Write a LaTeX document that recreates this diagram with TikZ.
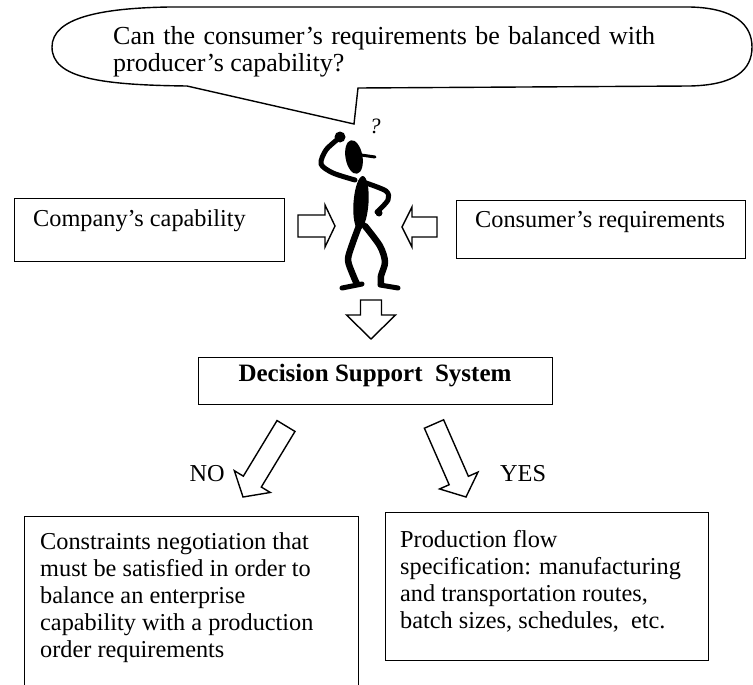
\documentclass[tikz,border=0pt]{standalone}
\usepackage{fontspec}
\setmainfont{Liberation Serif}
\usetikzlibrary{calc}

% hollow block arrow from #1 (tail centre) to #2 (tip):
% #3 half shaft width, #4 half head width, #5 head length
\newcommand\fatarrow[5]{%
  \coordinate (fa-hb) at ($(#2)!#5!(#1)$);
  \draw[blockarrow] ($(#1)!#3!90:(#2)$) -- ($(fa-hb)!#3!-90:(#1)$)
    -- ($(fa-hb)!#4!-90:(#1)$) -- (#2) -- ($(fa-hb)!#4!90:(#1)$)
    -- ($(fa-hb)!#3!90:(#1)$) -- ($(#1)!#3!-90:(#2)$) -- cycle;}

\begin{document}
\begin{tikzpicture}[x=1pt,y=-1pt,
  frame/.style={draw, line width=1.4pt, inner sep=0pt},
  txt/.style={inner sep=0pt, align=left, font=\fontsize{24.3}{26.8}\selectfont},
  bubtxt/.style={inner sep=0pt, align=left, font=\fontsize{26}{27}\selectfont},
  blockarrow/.style={draw, line width=1.4pt, fill=white, line join=miter},
  limb/.style={line width=5pt, line cap=round, line join=round},
  leg/.style={line width=6.5pt, line cap=round, line join=round},
]
\useasboundingbox (0,0) rectangle (753,685);

% thought bubble with its tail
\draw[line width=1.4pt, line join=miter]
  (187,86) .. controls (100,85) and (52,78) .. (52,47)
  .. controls (52,18) and (100,8) .. (170,7) -- (690,7)
  .. controls (735,8) and (752,25) .. (752,47)
  .. controls (752,70) and (735,85) .. (690,86) -- (358,88)
  -- (354,124) -- cycle;
% (multi-line nodes sit on the baseline of their last line)
\node[bubtxt, anchor=base west] (question) at (113,72)
  {\makebox[542pt][s]{Can the consumer’s requirements be balanced with}\\
   producer’s capability?};

% the puzzled man
\node[font=\fontsize{22}{22}\selectfont\itshape, inner sep=0pt] (qm) at (375,126) {?};
\fill[rotate around={10:(354,157)}] (354,157) ellipse [x radius=8.5pt, y radius=17pt];
\draw[line width=3pt, line cap=round] (361,155) -- (375,157);
\fill[rotate around={-4:(361,203)}] (361,203) ellipse [x radius=7.5pt, y radius=27pt];
\draw[limb] plot[smooth] coordinates {(355,180) (333,173) (321,164) (326,150) (338,139)};
\fill (340,137) circle [radius=5.5pt];
\draw[limb] plot[smooth] coordinates {(366,183) (386,191) (388,200) (377,212)};
\fill (379,213) circle [radius=3.5pt];
\draw[leg] plot[smooth] coordinates {(359,226) (352,245) (348,260) (353,275) (357,284)};
\draw[leg] plot[smooth] coordinates {(365,226) (380,246) (385,262) (381,276) (381,284)};
\draw[line width=5pt, line cap=round] (342,288) -- (362,284);
\draw[line width=5pt, line cap=round] (380,285) -- (398,288);

% inputs
\node[frame, anchor=north west, minimum width=270pt, minimum height=63pt] (company) at (14,198) {};
\node[txt, anchor=base west] (companytxt) at (33,226) {Company’s capability};
\node[frame, anchor=north west, minimum width=289pt, minimum height=58pt] (consumer) at (456,200) {};
\node[txt, anchor=base west] (consumertxt) at (475,227) {Consumer’s requirements};

\coordinate (la) at (298,226);  \coordinate (lb) at (335,226);
\coordinate (ra) at (437,227);  \coordinate (rb) at (402,227);
\fatarrow{la}{lb}{11pt}{21pt}{10pt}
\fatarrow{ra}{rb}{10pt}{20pt}{10pt}

% decision support system
\coordinate (da) at (371,300);  \coordinate (db) at (371,339);
\fatarrow{da}{db}{10.5pt}{24.5pt}{24pt}
\node[frame, anchor=north west, minimum width=354pt, minimum height=47pt] (dss) at (198,357) {};
\node[inner sep=0pt, font=\fontsize{25}{27}\selectfont\bfseries, anchor=base] (dsstxt) at (375,381)
  {Decision Support\ \ System};

% outcomes
\coordinate (na) at (286,426);  \coordinate (nb) at (243,497);
\coordinate (ya) at (434,424);  \coordinate (yb) at (466,497);
\fatarrow{na}{nb}{10.5pt}{21pt}{18pt}
\fatarrow{ya}{yb}{10.5pt}{21pt}{18pt}
\node[txt, anchor=base east] (no) at (225,481) {NO};
\node[txt, anchor=base west] (yes) at (500,481) {YES};

\node[frame, anchor=north west, minimum width=334pt, minimum height=185pt] (negot) at (24,516) {};
\node[txt, anchor=base west] (negottxt) at (40,657)
  {Constraints negotiation that\\ must be satisfied in order to\\ balance an enterprise\\
   capability with a production\\ order requirements};
\node[frame, anchor=north west, minimum width=323pt, minimum height=148pt] (flow) at (385,512) {};
\node[txt, anchor=base west] (flowtxt) at (400,628)
  {Production flow\\ specification: manufacturing\\ and transportation routes,\\
   batch sizes, schedules,\ \ etc.};
\end{tikzpicture}
\end{document}
